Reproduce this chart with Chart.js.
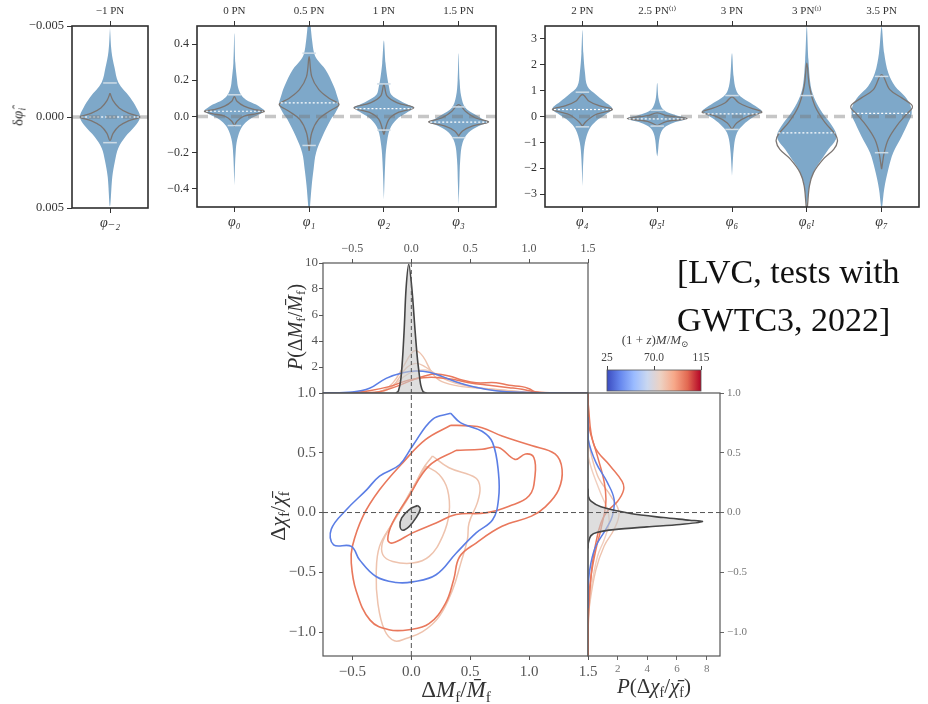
<!DOCTYPE html>
<html>
<head>
<meta charset="utf-8">
<script src="https://cdn.jsdelivr.net/npm/chart.js@4.4.1/dist/chart.umd.min.js"></script>
<style>
  body { margin: 0; background: #fff; }
  #page { position: relative; width: 928px; height: 704px; overflow: hidden; font-family: 'Liberation Serif', 'DejaVu Serif', serif; color: #333; }
  canvas { position: absolute; }
  .lab { position: absolute; white-space: nowrap; transform: translate(-50%, -50%); }
  .rot { transform: translate(-50%, -50%) rotate(-90deg); }
  .lab sub { font-size: 66%; vertical-align: -0.3em; line-height: 0; }
  #note { position: absolute; left: 677px; top: 248px; font-size: 34px; line-height: 48px; color: #111; white-space: nowrap; }
</style>
</head>
<body>
<div id="page">
  <canvas id="v1"></canvas>
  <canvas id="v2"></canvas>
  <canvas id="v3"></canvas>
  <canvas id="top"></canvas>
  <canvas id="main"></canvas>
  <canvas id="right"></canvas>
  <canvas id="cbar"></canvas>

  <div class="lab rot" style="left:18px;top:117px;font-size:15px">δ<i>φ̂</i><sub><i>i</i></sub></div>
  <div class="lab rot" style="left:295px;top:327px;font-size:20px"><i>P</i>(Δ<i>M</i><sub>f</sub>/<i>M̄</i><sub>f</sub>)</div>
  <div class="lab rot" style="left:278px;top:516px;font-size:22px">Δ<i>χ</i><sub>f</sub>/<i>χ̄</i><sub>f</sub></div>
  <div class="lab" style="left:456px;top:690px;font-size:23px">Δ<i>M</i><sub>f</sub>/<i>M̄</i><sub>f</sub></div>
  <div class="lab" style="left:654px;top:686px;font-size:21px"><i>P</i>(Δ<i>χ</i><sub>f</sub>/<i>χ̄</i><sub>f</sub>)</div>
  <div class="lab" style="left:655px;top:340px;font-size:13px;color:#444">(1 + <i>z</i>)<i>M</i>/<i>M</i><sub>⊙</sub></div>
  <div id="note">[LVC, tests with<br>GWTC3, 2022]</div>
</div>

<script>
// ---------- violin panels: categories and tick labels ----------
const catsA = [0];
const catsB = [0, 1, 2, 3];
const catsC = [0, 1, 2, 3, 4];
const phiA = ['φ₋₂'];
const phiB = ['φ₀', 'φ₁', 'φ₂', 'φ₃'];
const phiC = ['φ₄', 'φ₅ₗ', 'φ₆', 'φ₆ₗ', 'φ₇'];
const pnA = ['−1 PN'];
const pnB = ['0 PN', '0.5 PN', '1 PN', '1.5 PN'];
const pnC = ['2 PN', '2.5 PN⁽ˡ⁾', '3 PN', '3 PN⁽ˡ⁾', '3.5 PN'];

// violin profiles: [value, half width] from low to high value
const vM2 = [[-0.0049, 0], [-0.0036, 0.02], [-0.0027, 0.06], [-0.0019, 0.11], [-0.0011, 0.26], [-0.0005, 0.35], [0, 0.395], [0.0005, 0.33], [0.0011, 0.2], [0.0017, 0.11], [0.0024, 0.066], [0.0033, 0.03], [0.0049, 0]];
const gM2 = [[-0.0013, 0], [-0.0009, 0.04], [-0.0005, 0.12], [-0.0002, 0.25], [0, 0.395], [0.0002, 0.25], [0.0005, 0.12], [0.0009, 0.04], [0.0013, 0]];

const vP0 = [[-0.38, 0], [-0.18, 0.02], [-0.108, 0.05], [-0.053, 0.11], [-0.016, 0.2], [0.011, 0.33], [0.032, 0.4], [0.048, 0.356], [0.066, 0.29], [0.093, 0.155], [0.12, 0.09], [0.16, 0.05], [0.203, 0.035], [0.295, 0.013], [0.46, 0]];
const gP0 = [[-0.053, 0], [-0.026, 0.035], [0.002, 0.13], [0.016, 0.3], [0.029, 0.4], [0.038, 0.27], [0.057, 0.13], [0.084, 0.035], [0.11, 0]];
const vP1 = [[-0.55, 0], [-0.49, 0.013], [-0.38, 0.035], [-0.29, 0.06], [-0.2, 0.093], [-0.108, 0.18], [-0.016, 0.29], [0.02, 0.35], [0.066, 0.4], [0.11, 0.377], [0.167, 0.33], [0.258, 0.22], [0.313, 0.11], [0.35, 0.067], [0.42, 0.04], [0.55, 0]];
const gP1 = [[-0.19, 0], [-0.09, 0.035], [-0.016, 0.125], [0.029, 0.27], [0.066, 0.4], [0.1, 0.27], [0.148, 0.13], [0.22, 0.035], [0.33, 0]];
const vP2 = [[-0.46, 0], [-0.255, 0.018], [-0.163, 0.035], [-0.07, 0.08], [-0.016, 0.17], [0.02, 0.3], [0.048, 0.4], [0.066, 0.32], [0.084, 0.23], [0.12, 0.1], [0.167, 0.067], [0.22, 0.044], [0.295, 0.022], [0.42, 0]];
const gP2 = [[-0.1, 0], [-0.016, 0.067], [0.02, 0.18], [0.048, 0.4], [0.075, 0.18], [0.112, 0.044], [0.176, 0]];
const vP3 = [[-0.49, 0], [-0.38, 0.009], [-0.236, 0.022], [-0.145, 0.053], [-0.09, 0.13], [-0.053, 0.27], [-0.031, 0.4], [-0.016, 0.33], [0.011, 0.22], [0.048, 0.09], [0.11, 0.035], [0.2, 0.013], [0.35, 0]];
const gP3 = [[-0.108, 0], [-0.08, 0.053], [-0.053, 0.18], [-0.031, 0.4], [-0.007, 0.22], [0.029, 0.09], [0.066, 0]];

const vP4 = [[-2.7, 0], [-1.65, 0.013], [-1.01, 0.035], [-0.5, 0.09], [-0.18, 0.18], [0.077, 0.31], [0.3, 0.4], [0.59, 0.29], [0.85, 0.18], [1.17, 0.067], [1.68, 0.035], [2.45, 0.013], [3.35, 0]];
const gP4 = [[-0.37, 0], [-0.18, 0.053], [0.077, 0.18], [0.27, 0.4], [0.42, 0.22], [0.59, 0.09], [0.85, 0]];
const vP5 = [[-1.55, 0], [-1.4, 0.009], [-0.76, 0.035], [-0.44, 0.09], [-0.24, 0.22], [-0.077, 0.4], [0.077, 0.22], [0.27, 0.08], [0.65, 0.022], [1.3, 0]];
const gP5 = [[-0.35, 0], [-0.19, 0.13], [-0.08, 0.4], [0.03, 0.13], [0.14, 0]];
const vP6 = [[-2.3, 0], [-1.14, 0.027], [-0.63, 0.067], [-0.31, 0.155], [-0.05, 0.27], [0.17, 0.4], [0.27, 0.38], [0.53, 0.245], [0.78, 0.11], [1.04, 0.053], [1.55, 0.022], [2.45, 0]];
const gP6 = [[-0.5, 0], [-0.24, 0.067], [0.013, 0.22], [0.17, 0.4], [0.33, 0.245], [0.53, 0.09], [0.76, 0]];
const vP6l = [[-3.6, 0], [-3.19, 0.013], [-2.55, 0.044], [-2.04, 0.11], [-1.65, 0.2], [-1.27, 0.29], [-0.88, 0.39], [-0.63, 0.39], [-0.24, 0.31], [0.14, 0.21], [0.65, 0.11], [1.17, 0.053], [2.19, 0.022], [3.47, 0]];
const gP6l = [[-3.6, 0], [-3.45, 0.009], [-2.68, 0.035], [-2.17, 0.09], [-1.65, 0.22], [-1.27, 0.36], [-0.95, 0.41], [-0.69, 0.38], [-0.24, 0.245], [0.4, 0.11], [1.17, 0.035], [2.06, 0]];
const vP7 = [[-3.6, 0], [-3.45, 0.009], [-2.8, 0.035], [-2.04, 0.09], [-1.4, 0.155], [-0.76, 0.27], [-0.24, 0.355], [0.08, 0.4], [0.4, 0.39], [0.78, 0.31], [1.17, 0.18], [1.68, 0.09], [2.45, 0.035], [3.47, 0]];
const gP7 = [[-2.04, 0], [-1.4, 0.035], [-0.88, 0.09], [-0.37, 0.2], [0.077, 0.33], [0.33, 0.41], [0.46, 0.4], [0.72, 0.27], [1.04, 0.11], [1.62, 0]];

// medians and 90% bounds
const medA = [0];
const capHiA = [-0.00187];
const capLoA = [0.00141];
const medB = [0.029, 0.075, 0.044, -0.031];
const capHiB = [0.12, 0.35, 0.18, 0.053];
const capLoB = [-0.05, -0.16, -0.075, -0.117];
const medC = [0.27, -0.09, 0.1, -0.63, 0.12];
const capHiC = [0.94, 0.24, 0.81, 0.81, 1.55];
const capLoC = [-0.4, -0.37, -0.5, null, -1.4];

// ---------- corner plot ----------
const mfTicks = [-0.5, 0, 0.5, 1.0, 1.5];
const chiTicks = [-1.0, -0.5, 0, 0.5, 1.0];
const pMTicks = [2, 4, 6, 8, 10];
const pChiTicks = [2, 4, 6, 8];
const massTicks = [25, 70, 115];
const massLabels = ['25', '70.0', '115'];

// top marginal: [dMf/Mf, density]
const topBlack = [[-0.13, 0], [-0.11, 0.15], [-0.09, 1.0], [-0.075, 2.6], [-0.06, 5.0], [-0.045, 8.0], [-0.022, 9.9], [0.005, 8.0], [0.03, 5.0], [0.05, 2.8], [0.065, 1.6], [0.08, 0.6], [0.1, 0.1], [0.13, 0]];
const topBlue = [[-0.75, 0.01], [-0.5, 0.08], [-0.355, 0.36], [-0.214, 1.13], [-0.073, 1.56], [0.039, 1.69], [0.152, 1.59], [0.265, 1.26], [0.377, 0.87], [0.546, 0.44], [0.715, 0.18], [0.94, 0.05], [1.2, 0.01], [1.5, 0]];
const topOrangeA = [[-0.75, 0], [-0.4, 0.02], [-0.27, 0.1], [-0.13, 0.49], [0.01, 1.0], [0.12, 1.33], [0.21, 1.46], [0.32, 1.31], [0.43, 1.0], [0.55, 0.79], [0.72, 0.79], [0.83, 0.59], [0.94, 0.49], [1.0, 0.33], [1.05, 0.1], [1.14, 0.01], [1.5, 0]];
const topOrangeB = [[-0.75, 0], [-0.52, 0.02], [-0.355, 0.18], [-0.19, 0.49], [-0.02, 1.0], [0.1, 1.18], [0.21, 1.2], [0.35, 1.05], [0.49, 0.79], [0.66, 0.59], [0.83, 0.41], [0.94, 0.28], [1.05, 0.08], [1.19, 0.01], [1.5, 0]];
const topPeachA = [[-0.75, 0], [-0.4, 0.02], [-0.27, 0.1], [-0.16, 0.74], [-0.07, 2.0], [0.0, 3.05], [0.04, 3.26], [0.1, 2.8], [0.18, 1.5], [0.26, 0.87], [0.43, 0.49], [0.63, 0.33], [0.83, 0.18], [1.05, 0.03], [1.5, 0]];
const topPeachB = [[-0.75, 0], [-0.4, 0.01], [-0.3, 0.05], [-0.16, 0.54], [-0.045, 1.9], [0.04, 2.28], [0.12, 2.0], [0.24, 1.26], [0.38, 0.74], [0.6, 0.36], [0.83, 0.1], [1.0, 0.02], [1.5, 0]];
const topPeachC = [[-0.75, 0], [-0.35, 0.05], [-0.21, 0.23], [-0.02, 1.5], [0.12, 1.77], [0.26, 1.26], [0.49, 0.54], [0.77, 0.23], [1.0, 0.05], [1.5, 0]];

// main panel contours: [dMf/Mf, dchi/chi]
const mainBlue = [[0.335, 0.83], [0.42, 0.75], [0.6, 0.68], [0.69, 0.585], [0.74, 0.33], [0.74, 0.11], [0.69, -0.06], [0.55, -0.17], [0.38, -0.34], [0.21, -0.52], [0.01, -0.58], [-0.13, -0.585], [-0.3, -0.535], [-0.44, -0.395], [-0.51, -0.283], [-0.66, -0.27], [-0.68, -0.14], [-0.55, 0.025], [-0.38, 0.19], [-0.27, 0.305], [-0.1, 0.4], [0.01, 0.557], [0.18, 0.78], [0.335, 0.83]];
const mainOrangeOut = [[0.335, 0.73], [0.49, 0.725], [0.6, 0.71], [0.77, 0.64], [1.02, 0.56], [1.22, 0.49], [1.28, 0.36], [1.25, 0.19], [1.14, 0.05], [1.02, -0.03], [0.77, -0.115], [0.55, -0.255], [0.41, -0.37], [0.36, -0.56], [0.29, -0.76], [0.15, -0.93], [-0.02, -0.98], [-0.19, -0.98], [-0.35, -0.9], [-0.47, -0.65], [-0.51, -0.42], [-0.5, -0.28], [-0.41, -0.03], [-0.27, 0.19], [-0.07, 0.42], [0.12, 0.61], [0.335, 0.73]];
const mainOrangeIn = [[0.38, 0.52], [0.6, 0.53], [0.74, 0.545], [0.88, 0.445], [0.97, 0.49], [1.04, 0.46], [1.05, 0.305], [1.0, 0.14], [0.83, 0.053], [0.63, -0.003], [0.38, -0.017], [0.21, -0.087], [0.01, -0.17], [-0.16, -0.255], [-0.2, -0.227], [-0.16, -0.087], [-0.02, 0.137], [0.15, 0.39], [0.38, 0.52]];
const mainPeachOut = [[0.18, 0.473], [0.32, 0.375], [0.546, 0.291], [0.583, 0.207], [0.56, 0.081], [0.49, -0.087], [0.476, -0.227], [0.42, -0.423], [0.35, -0.647], [0.236, -0.871], [0.096, -0.997], [-0.045, -1.053], [-0.144, -1.073], [-0.228, -0.983], [-0.284, -0.759], [-0.298, -0.507], [-0.27, -0.283], [-0.158, -0.087], [-0.017, 0.137], [0.096, 0.361], [0.18, 0.473]];
const mainPeachIn = [[0.124, 0.389], [0.236, 0.319], [0.307, 0.193], [0.321, -0.003], [0.265, -0.199], [0.152, -0.367], [0.011, -0.423], [-0.158, -0.409], [-0.242, -0.353], [-0.242, -0.241], [-0.158, -0.087], [-0.045, 0.109], [0.053, 0.277], [0.124, 0.389]];
const mainBlack = [[0.053, 0.059], [0.076, 0.031], [0.039, -0.045], [-0.017, -0.115], [-0.073, -0.148], [-0.096, -0.115], [-0.082, -0.045], [-0.017, 0.025], [0.053, 0.059]];

// right marginal: [density, dchi/chi]
const rightBlack = [[0, 0.2], [0.02, 0.137], [0.2, 0.095], [0.87, 0.048], [2.87, -0.008], [5.09, -0.042], [6.87, -0.064], [7.71, -0.076], [6.2, -0.1], [3.98, -0.12], [1.76, -0.143], [0.64, -0.165], [0.2, -0.193], [0.02, -0.255], [0, -0.3]];
const rightBlue = [[0, 0.8], [0.02, 0.61], [0.53, 0.42], [1.31, 0.25], [1.76, 0.11], [1.64, -0.03], [1.2, -0.14], [0.53, -0.28], [0.2, -0.42], [0.02, -0.59], [0, -0.8]];
const rightOrangeA = [[0, 1.0], [0.02, 0.9], [0.42, 0.56], [1.5, 0.39], [2.3, 0.26], [2.4, 0.19], [2.0, 0.095], [1.3, 0.01], [0.87, -0.087], [0.53, -0.255], [0.3, -0.42], [0.1, -0.7], [0.02, -0.93], [0, -1.2]];
const rightOrangeB = [[0, 1.0], [0.02, 0.75], [0.64, 0.47], [1.1, 0.25], [1.2, 0.08], [0.87, -0.14], [0.53, -0.31], [0.2, -0.535], [0.02, -0.79], [0, -1.2]];
const rightPeachA = [[0, 0.8], [0.02, 0.61], [0.64, 0.31], [1.53, 0.14], [2.09, 0.0], [1.76, -0.14], [1.09, -0.28], [0.53, -0.48], [0.09, -0.79], [0, -0.98], [0, -1.2]];
const rightPeachB = [[0, 0.7], [0.02, 0.47], [0.76, 0.19], [1.31, 0.025], [1.42, -0.087], [1.09, -0.227], [0.64, -0.367], [0.2, -0.65], [0, -0.93], [0, -1.2]];

// ---------- styles ----------
const SERIF = "'Liberation Serif', 'DejaVu Serif', serif";
const VBLUE = '#7ea8c9', VGRAY = '#7b7572', VCAP = '#cddbe6';
const C_BLUE = '#5b7ee5', C_ORANGE = '#e9785c', C_PEACH = '#eec3ae', C_PEACH2 = '#f1cfbf', C_DARK = '#454545';
const COOLWARM = ['#3b4cc0', '#6788ee', '#9abbff', '#c9d7f0', '#edd1c2', '#f7a889', '#e26952', '#b40426'];

// ---------- helpers ----------
function place(id, left, top, w, h) {
  const c = document.getElementById(id);
  c.width = w; c.height = h;
  c.style.left = left + 'px'; c.style.top = top + 'px';
  c.style.width = w + 'px'; c.style.height = h + 'px';
  return c;
}

const pts = arr => arr.map(([x, y]) => ({ x, y }));

const fmtNum = (v, d) => (v < -1e-12 ? '\u2212' : '') + Math.abs(v).toFixed(d);

function axis(pos, min, max, size, o = {}) {
  const vertical = pos === 'left' || pos === 'right';
  return {
    type: 'linear', position: pos, min, max, reverse: !!o.reverse,
    afterBuildTicks: s => { s.ticks = (o.ticks || []).map(v => ({ value: v })); },
    afterFit: s => {
      if (vertical) s.width = size; else s.height = size;
      s.paddingLeft = s.paddingRight = s.paddingTop = s.paddingBottom = 0;
    },
    ticks: {
      autoSkip: false, maxRotation: 0, padding: o.pad ?? 3,
      color: o.color || '#333',
      font: { family: SERIF, size: o.size || 12, style: o.style || 'normal' },
      callback: (v, i) => o.fmt ? o.fmt(v, i) : String(v)
    },
    grid: { display: true, drawOnChartArea: false, drawTicks: true, tickLength: o.tl ?? 5, color: o.tc || '#333', lineWidth: o.tw || 1 },
    border: { display: false }
  };
}

const framePlugin = {
  id: 'frame',
  afterDatasetsDraw(chart, args, opts) {
    const { ctx, chartArea: a } = chart;
    ctx.save();
    ctx.strokeStyle = opts.color || '#333';
    ctx.lineWidth = opts.width || 1;
    ctx.strokeRect(a.left, a.top, a.right - a.left, a.bottom - a.top);
    ctx.restore();
  }
};

const gradientPlugin = {
  id: 'cgrad',
  beforeDatasetsDraw(chart) {
    const { ctx, chartArea: a } = chart;
    const g = ctx.createLinearGradient(a.left, 0, a.right, 0);
    COOLWARM.forEach((c, i) => g.addColorStop(i / (COOLWARM.length - 1), c));
    ctx.save();
    ctx.fillStyle = g;
    ctx.fillRect(a.left, a.top, a.right - a.left, a.bottom - a.top);
    ctx.restore();
  }
};

function line(data, o = {}) {
  return Object.assign({
    data, showLine: true, pointRadius: 0, fill: false,
    borderWidth: 1.5, borderColor: '#333', backgroundColor: 'rgba(0,0,0,0)', tension: 0
  }, o);
}

function build(id, box, pad, scales, datasets, frame, extra) {
  const c = place(id, ...box);
  return new Chart(c, {
    type: 'scatter',
    data: { datasets },
    options: {
      responsive: false, animation: false, devicePixelRatio: 1, events: [],
      layout: { padding: pad, autoPadding: false },
      scales,
      plugins: { legend: { display: false }, tooltip: { enabled: false }, frame }
    },
    plugins: [framePlugin].concat(extra || [])
  });
}

// violin polygon: right edge low->high, then left edge back down
function violinPoly(c, prof) {
  const right = prof.map(([v, w]) => ({ x: c + w, y: v }));
  const left = prof.slice(0, -1).reverse().map(([v, w]) => ({ x: c - w, y: v }));
  return right.concat(left);
}

function violinSets(cats, blue, gray, med, hi, lo, xmax) {
  const sets = [];
  cats.forEach((c, i) => {
    sets.push(line(violinPoly(c, blue[i]), { backgroundColor: VBLUE, borderColor: 'rgba(0,0,0,0)', borderWidth: 0, fill: 'shape', tension: 0.35, order: 5 }));
    sets.push(line(violinPoly(c, gray[i]), { borderColor: VGRAY, borderWidth: 1.3, tension: 0.35, order: 4 }));
    sets.push(line([{ x: c - 0.38, y: med[i] }, { x: c + 0.38, y: med[i] }], { borderColor: '#ffffff', borderWidth: 1.2, borderDash: [2, 2], order: 3 }));
    [hi[i], lo[i]].forEach(v => {
      if (v !== null) sets.push(line([{ x: c - 0.09, y: v }, { x: c + 0.09, y: v }], { borderColor: VCAP, borderWidth: 1.5, order: 2 }));
    });
  });
  sets.push(line([{ x: -0.5, y: 0 }, { x: xmax, y: 0 }], { borderColor: 'rgba(120,120,120,0.42)', borderWidth: 3.5, borderDash: [11, 6], order: 1 }));
  return sets;
}

const vFrame = { color: '#2e2e2e', width: 1.6 };

// ---------- violin panel 1 ----------
build('v1', [0, 0, 160, 232], { left: 0, right: 12, top: 0, bottom: 0 }, {
  x: axis('bottom', -0.5, 0.5, 24, { ticks: catsA, fmt: (v, i) => phiA[i], size: 14, style: 'italic', pad: 2 }),
  x2: axis('top', -0.5, 0.5, 26, { ticks: catsA, fmt: (v, i) => pnA[i], size: 11, pad: 3 }),
  y: axis('left', -0.005, 0.005, 72, { ticks: [-0.005, 0, 0.005], reverse: true, fmt: v => fmtNum(v, 3), size: 12.5 })
}, violinSets(catsA, [vM2], [gM2], medA, capHiA, capLoA, 0.5), vFrame);

// ---------- violin panel 2 ----------
build('v2', [160, 0, 352, 232], { left: 0, right: 16, top: 0, bottom: 0 }, {
  x: axis('bottom', -0.5, 3.5, 25, { ticks: catsB, fmt: (v, i) => phiB[i], size: 14, style: 'italic', pad: 2 }),
  x2: axis('top', -0.5, 3.5, 26, { ticks: catsB, fmt: (v, i) => pnB[i], size: 11, pad: 3 }),
  y: axis('left', -0.5, 0.5, 37, { ticks: [-0.4, -0.2, 0, 0.2, 0.4], fmt: v => fmtNum(v, 1), size: 12 })
}, violinSets(catsB, [vP0, vP1, vP2, vP3], [gP0, gP1, gP2, gP3], medB, capHiB, capLoB, 3.5), vFrame);

// ---------- violin panel 3 ----------
build('v3', [512, 0, 416, 232], { left: 0, right: 9, top: 0, bottom: 0 }, {
  x: axis('bottom', -0.5, 4.5, 25, { ticks: catsC, fmt: (v, i) => phiC[i], size: 14, style: 'italic', pad: 2 }),
  x2: axis('top', -0.5, 4.5, 26, { ticks: catsC, fmt: (v, i) => pnC[i], size: 11, pad: 3 }),
  y: axis('left', -3.5, 3.5, 33, { ticks: [-3, -2, -1, 0, 1, 2, 3], fmt: v => fmtNum(v, 0), size: 12 })
}, violinSets(catsC, [vP4, vP5, vP6, vP6l, vP7], [gP4, gP5, gP6, gP6l, gP7], medC, capHiC, capLoC, 4.5), vFrame);

// ---------- corner: top marginal ----------
const cFrame = { color: '#555', width: 1.2 };
build('top', [285, 236, 315, 160], { left: 0, right: 12, top: 0, bottom: 3 }, {
  x: axis('top', -0.75, 1.5, 27, { ticks: mfTicks, fmt: v => fmtNum(v, 1), size: 12, color: '#555', tc: '#555', tl: 4 }),
  y: axis('left', 0, 10, 38, { ticks: pMTicks, fmt: v => String(v), size: 13, color: '#555', tc: '#555', tl: 4, pad: 1 })
}, [
  line(pts(topPeachC), { borderColor: C_PEACH2, borderWidth: 1.4, tension: 0.4, order: 9 }),
  line(pts(topPeachB), { borderColor: C_PEACH, borderWidth: 1.4, tension: 0.4, order: 8 }),
  line(pts(topPeachA), { borderColor: C_PEACH, borderWidth: 1.4, tension: 0.4, order: 7 }),
  line(pts(topOrangeB), { borderColor: C_ORANGE, borderWidth: 1.5, tension: 0.4, order: 6 }),
  line(pts(topOrangeA), { borderColor: C_ORANGE, borderWidth: 1.5, tension: 0.4, order: 5 }),
  line(pts(topBlue), { borderColor: C_BLUE, borderWidth: 1.5, tension: 0.4, order: 4 }),
  line(pts(topBlack), { borderColor: C_DARK, backgroundColor: 'rgba(200,200,200,0.6)', fill: 'shape', borderWidth: 1.6, tension: 0.3, order: 3 }),
  line([{ x: 0, y: 0 }, { x: 0, y: 10 }], { borderColor: '#555', borderWidth: 1, borderDash: [4, 3], order: 1 })
], cFrame);

// ---------- corner: main panel ----------
build('main', [270, 380, 330, 324], { left: 0, right: 12, top: 13, bottom: 0 }, {
  x: axis('bottom', -0.75, 1.5, 48, { ticks: mfTicks, fmt: v => fmtNum(v, 1), size: 15, color: '#555', tc: '#555', tl: 4 }),
  y: axis('left', -1.2, 1.0, 53, { ticks: chiTicks, fmt: v => fmtNum(v, 1), size: 15, color: '#555', tc: '#555', tl: 4 })
}, [
  line(pts(mainPeachOut), { borderColor: C_PEACH, borderWidth: 1.5, tension: 0.4, order: 9 }),
  line(pts(mainPeachIn), { borderColor: C_PEACH, borderWidth: 1.5, tension: 0.4, order: 8 }),
  line(pts(mainOrangeOut), { borderColor: C_ORANGE, borderWidth: 1.6, tension: 0.4, order: 7 }),
  line(pts(mainOrangeIn), { borderColor: C_ORANGE, borderWidth: 1.6, tension: 0.4, order: 6 }),
  line(pts(mainBlue), { borderColor: C_BLUE, borderWidth: 1.6, tension: 0.4, order: 5 }),
  line(pts(mainBlack), { borderColor: C_DARK, backgroundColor: 'rgba(190,190,190,0.6)', fill: 'shape', borderWidth: 1.6, tension: 0.4, order: 4 }),
  line([{ x: 0, y: -1.2 }, { x: 0, y: 1.0 }], { borderColor: '#555', borderWidth: 1, borderDash: [5, 3], order: 2 }),
  line([{ x: -0.75, y: 0 }, { x: 1.5, y: 0 }], { borderColor: '#555', borderWidth: 1, borderDash: [5, 3], order: 1 })
], cFrame);

// ---------- corner: right marginal ----------
build('right', [560, 380, 200, 324], { left: 28, right: 0, top: 13, bottom: 0 }, {
  x: axis('bottom', 0, 8.9, 48, { ticks: pChiTicks, fmt: v => String(v), size: 11, color: '#777', tc: '#666', tl: 4 }),
  y: axis('right', -1.2, 1.0, 40, { ticks: chiTicks, fmt: v => fmtNum(v, 1), size: 11, color: '#777', tc: '#666', tl: 4 })
}, [
  line(pts(rightPeachB), { borderColor: C_PEACH2, borderWidth: 1.4, tension: 0.4, order: 8 }),
  line(pts(rightPeachA), { borderColor: C_PEACH, borderWidth: 1.4, tension: 0.4, order: 7 }),
  line(pts(rightOrangeB), { borderColor: C_ORANGE, borderWidth: 1.5, tension: 0.4, order: 6 }),
  line(pts(rightOrangeA), { borderColor: C_ORANGE, borderWidth: 1.5, tension: 0.4, order: 5 }),
  line(pts(rightBlue), { borderColor: C_BLUE, borderWidth: 1.5, tension: 0.4, order: 4 }),
  line(pts(rightBlack), { borderColor: C_DARK, backgroundColor: 'rgba(200,200,200,0.6)', fill: 'shape', borderWidth: 1.6, tension: 0.3, order: 3 }),
  line([{ x: 0, y: 0 }, { x: 8.9, y: 0 }], { borderColor: '#555', borderWidth: 1, borderDash: [5, 3], order: 1 })
], cFrame);

// ---------- colour bar ----------
build('cbar', [580, 328, 140, 70], { left: 27, right: 19, top: 0, bottom: 7 }, {
  x: axis('top', 25, 115, 42, { ticks: massTicks, fmt: (v, i) => massLabels[i], size: 11.5, color: '#444', tc: '#444', tl: 4, pad: 1 }),
  y: { display: false, min: 0, max: 1 }
}, [], { color: '#555', width: 0.8 }, [gradientPlugin]);
</script>
</body>
</html>
